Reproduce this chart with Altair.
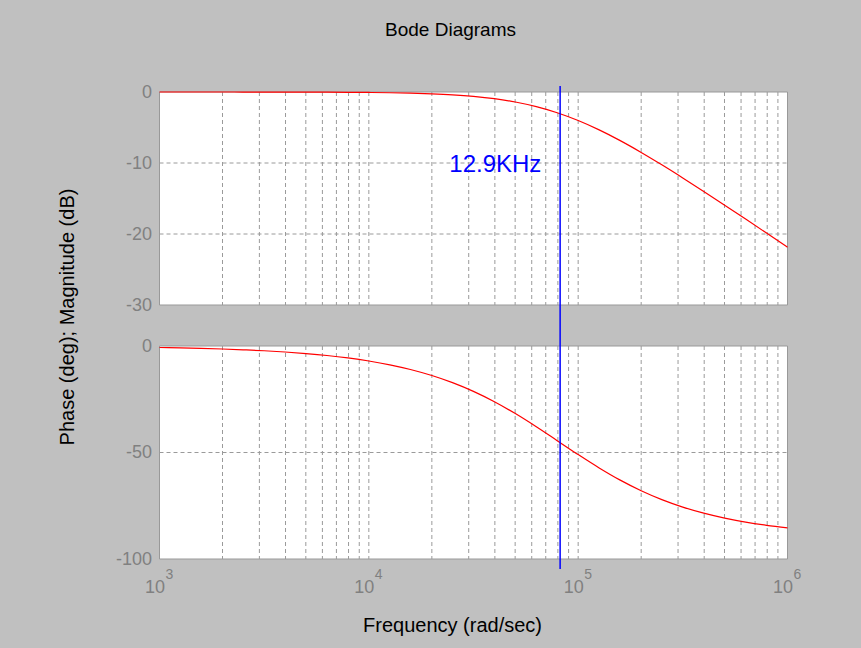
import altair as alt
import pandas as pd

# ---- data ----
freq = [1000, 1260, 1580, 2000, 2510, 3160, 3980, 5010, 6310, 7940,
        10000, 12600, 15800, 20000, 25100, 31600, 39800, 50100, 63100, 79400,
        100000, 126000, 158000, 200000, 251000, 316000, 398000, 501000, 631000, 794000,
        1000000]
magnitude_db = [-0.001, -0.001, -0.002, -0.003, -0.004, -0.007, -0.010, -0.017, -0.026, -0.042,
                -0.066, -0.104, -0.162, -0.257, -0.398, -0.615, -0.939, -1.407, -2.060, -2.924,
                -4.021, -5.340, -6.817, -8.511, -10.254, -12.100, -14.004, -15.939, -17.902, -19.872,
                -21.859]
phase_deg = [-0.71, -0.89, -1.12, -1.41, -1.78, -2.23, -2.81, -3.54, -4.45, -5.60,
             -7.04, -8.84, -11.04, -13.87, -17.22, -21.31, -26.17, -31.74, -37.92, -44.43,
             -50.99, -57.25, -62.86, -67.95, -72.12, -75.62, -78.50, -80.82, -82.69, -84.18,
             -85.37]
marker_freq = [82000]
marker_label = ["12.9KHz"]
marker_label_freq = [40200]
marker_label_db = [-10.3]
decades = [1000, 10000, 100000, 1000000]
exponents = ["3", "4", "5", "6"]
mag_ticks = [0, -10, -20, -30]
phase_ticks = [0, -50, -100]
mag_range = [-30, 0]
phase_range = [-100, 0]
grid_freqs = [d * m for d in decades[:-1] for m in range(1, 10)] + [decades[-1]]

# ---- layout constants ----
W = 628          # plot width
PH = 213         # height of each panel
GAP = 41         # gap between panels
HT = PH * 2 + GAP
LEFT, TOP = 159.5, 92
FONT = "Liberation Sans"
GRID = "#9a9a9a"
FRAME = "#999999"
LABEL = "#808080"

xmin, xmax = decades[0], decades[-1]
df = pd.DataFrame({"freq": freq, "mag": magnitude_db, "phase": phase_deg})
marker_df = pd.DataFrame({"freq": marker_freq})
label_df = pd.DataFrame({"freq": marker_label_freq, "mag": marker_label_db, "label": marker_label})
exp_df = pd.DataFrame({"freq": decades, "exp": exponents})
mag_panel = pd.DataFrame({"freq": [xmin], "freq_end": [xmax], "mag": [mag_range[1]], "mag_end": [mag_range[0]]})
ph_panel = pd.DataFrame({"freq": [xmin], "freq_end": [xmax], "phase": [phase_range[1]], "phase_end": [phase_range[0]]})
vgrid = pd.DataFrame({"freq": [f for f in grid_freqs if xmin < f < xmax]})
mag_hgrid = pd.DataFrame({"freq": xmin, "freq_end": xmax, "mag": [v for v in mag_ticks if mag_range[0] < v < mag_range[1]]})
ph_hgrid = pd.DataFrame({"freq": xmin, "freq_end": xmax, "phase": [v for v in phase_ticks if phase_range[0] < v < phase_range[1]]})

xscale = alt.Scale(type="log", domain=[xmin, xmax], nice=False)
mag_scale = alt.Scale(domain=mag_range, range=[PH, 0], nice=False, zero=False)
ph_scale = alt.Scale(domain=phase_range, range=[HT, PH + GAP], nice=False, zero=False)

X = alt.X("freq:Q", scale=xscale, title="Frequency (rad/sec)",
          axis=alt.Axis(values=decades, grid=False, ticks=False, tickSize=0, domain=False,
                        labelExpr="'10'", labelFont=FONT, labelColor=LABEL, labelFontSize=18,
                        labelPadding=33.4, labelBaseline="alphabetic", labelOffset=-5,
                        labelOverlap=False, labelFlush=False,
                        titleFont=FONT, titleColor="black", titleFontWeight="normal", titleFontSize=20,
                        titleX=292.5, titleY=72, titleBaseline="alphabetic", titleAlign="center"))
X2 = alt.X2("freq_end:Q")

y_axis_common = dict(grid=False, ticks=False, tickSize=0, domain=False, orient="left",
                     labelExpr="'' + datum.value", labelPadding=8,
                     labelFont=FONT, labelColor=LABEL, labelFontSize=18)
Y_mag = alt.Y("mag:Q", scale=mag_scale, title="Phase (deg); Magnitude (dB)",
              axis=alt.Axis(values=mag_ticks, titleFont=FONT, titleColor="black",
                            titleFontWeight="normal", titleFontSize=20,
                            titleX=-86.5, titleY=224.5, titleAngle=270,
                            titleBaseline="alphabetic", titleAlign="center", **y_axis_common))
Y_ph = alt.Y("phase:Q", scale=ph_scale, title=None,
             axis=alt.Axis(values=phase_ticks, **y_axis_common))

dash = [4, 3]

# ---- magnitude panel ----
mag_bg = alt.Chart(mag_panel).mark_rect(fill="white", stroke=FRAME, strokeWidth=1).encode(
    x=X, x2=X2, y=Y_mag, y2=alt.Y2("mag_end:Q"))
mag_vg = alt.Chart(vgrid).mark_rule(color=GRID, strokeDash=dash, strokeWidth=1).encode(
    x=X, y=alt.value(0), y2=alt.value(PH))
mag_hg = alt.Chart(mag_hgrid).mark_rule(color=GRID, strokeDash=dash, strokeWidth=1).encode(
    x=X, x2=X2, y=Y_mag)
mag_line = alt.Chart(df).mark_line(color="#ff0000", strokeWidth=1.2, interpolate="monotone").encode(
    x=X, y=Y_mag)
mag_text = alt.Chart(label_df).mark_text(color="#0000ff", fontSize=24, font=FONT).encode(
    x=X, y=Y_mag, text="label:N")
marker_rule = alt.Chart(marker_df).mark_rule(color="#0000ff", strokeWidth=1.5).encode(
    x=X, y=alt.value(-6), y2=alt.value(HT + 10))
mag_layer = alt.layer(mag_bg, mag_vg, mag_hg, mag_line, mag_text, marker_rule)

# ---- phase panel ----
ph_bg = alt.Chart(ph_panel).mark_rect(fill="white", stroke=FRAME, strokeWidth=1).encode(
    x=X, x2=X2, y=Y_ph, y2=alt.Y2("phase_end:Q"))
ph_vg = alt.Chart(vgrid).mark_rule(color=GRID, strokeDash=dash, strokeWidth=1).encode(
    x=X, y=alt.value(PH + GAP), y2=alt.value(HT))
ph_hg = alt.Chart(ph_hgrid).mark_rule(color=GRID, strokeDash=dash, strokeWidth=1).encode(
    x=X, x2=X2, y=Y_ph)
ph_line = alt.Chart(df).mark_line(color="#ff0000", strokeWidth=1.2, interpolate="monotone").encode(
    x=X, y=Y_ph)
ph_exp = alt.Chart(exp_df).mark_text(color=LABEL, fontSize=14, font=FONT, align="left",
                                     baseline="alphabetic", dx=6).encode(
    x=X, y=alt.value(HT + 20), text="exp:N")
ph_layer = alt.layer(ph_bg, ph_vg, ph_hg, ph_line, ph_exp)

chart = alt.layer(ph_layer, mag_layer).resolve_scale(y="independent").properties(
    width=W, height=HT,
    background="#c0c0c0",
    title=alt.Title("Bode Diagrams", font=FONT, fontSize=19, fontWeight="normal", color="black",
                    anchor="middle", frame="group", baseline="alphabetic", offset=28.5, dx=-23),
    autosize=alt.AutoSizeParams(type="none"),
    padding={"left": LEFT, "top": TOP, "right": 861 - LEFT - W, "bottom": 648 - TOP - HT},
).configure_view(stroke=None)

chart.save("out.html", embed_options={"renderer": "svg", "actions": False})
